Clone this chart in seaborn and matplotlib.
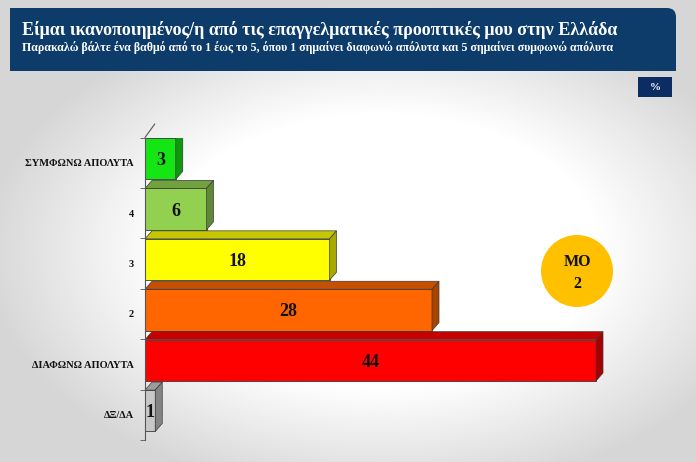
import numpy as np
import pandas as pd
import matplotlib
matplotlib.use("Agg")
import matplotlib.pyplot as plt
import seaborn as sns
from matplotlib.patches import Polygon, Rectangle, Circle, PathPatch
from matplotlib.path import Path
import matplotlib.colors as mcolors

# ---- data ----
categories = ["ΣΥΜΦΩΝΩ ΑΠΟΛΥΤΑ", "4", "3", "2", "ΔΙΑΦΩΝΩ ΑΠΟΛΥΤΑ", "ΔΞ/ΔΑ"]
values = [3, 6, 18, 28, 44, 1]
bar_colors = ["#14e614", "#92d050", "#ffff00", "#ff6600", "#ff0000", "#c8c8c8"]
title = "Είμαι ικανοποιημένος/η από τις επαγγελματικές προοπτικές μου στην Ελλάδα"
subtitle = ("Παρακαλώ βάλτε ένα βαθμό από το 1 έως το 5, όπου 1 σημαίνει διαφωνώ "
            "απόλυτα και 5 σημαίνει συμφωνώ απόλυτα")
mean_label = "ΜΟ"
mean_value = "2"
unit_label = "%"

df = pd.DataFrame({"cat": categories, "val": values})

sns.set_theme(style="white")
plt.rcParams["font.family"] = ["Liberation Serif", "DejaVu Serif"]

W, H = 696, 462
fig = plt.figure(figsize=(W / 100, H / 100), dpi=100)

# background gradient
bg = fig.add_axes([0, 0, 1, 1], zorder=0)
yy, xx = np.mgrid[0:H, 0:W]
r = np.sqrt(((xx - 380) / 400.0) ** 2 + ((yy - 250) / 250.0) ** 2)
g = np.clip(1.0 - 0.18 * np.clip(r - 0.55, 0, None) / 0.5, 0.84, 1.0)
bg.imshow(np.dstack([g, g, g]), extent=[0, W, H, 0], aspect="auto")
bg.set_xlim(0, W)
bg.set_ylim(H, 0)
bg.axis("off")

# main axes
left_px, top_px, bottom_px = 145, 137.5, 440
px_per_unit = 10.25
xmax = 50
ax = fig.add_axes([left_px / W, 1 - bottom_px / H,
                   xmax * px_per_unit / W, (bottom_px - top_px) / H], zorder=2)
ax.patch.set_alpha(0)

sns.barplot(data=df, x="val", y="cat", hue="cat", palette=bar_colors,
            orient="h", width=0.82, legend=False, ax=ax,
            edgecolor="#3a3a3a", linewidth=0.6, saturation=1)

ax.set_xlim(0, xmax)
ax.set_ylim(len(categories) - 0.5, -0.5)

def darken(c, f):
    rgb = np.array(mcolors.to_rgb(c))
    return tuple(rgb * f)

dx = 7 / px_per_unit
dy = 8 / ((bottom_px - top_px) / len(categories))
shift = -0.08
for p, col in zip(ax.patches, bar_colors):
    p.set_y(p.get_y() + shift)
    x0, y0 = p.get_x(), p.get_y()
    w, h = p.get_width(), p.get_height()
    y1 = y0 + h
    top = Polygon([(x0, y0), (x0 + w, y0), (x0 + w + dx, y0 - dy), (x0 + dx, y0 - dy)],
                  closed=True, facecolor=darken(col, 0.78), edgecolor="#3a3a3a",
                  linewidth=0.5, zorder=p.get_zorder())
    side = Polygon([(x0 + w, y0), (x0 + w + dx, y0 - dy), (x0 + w + dx, y1 - dy), (x0 + w, y1)],
                   closed=True, facecolor=darken(col, 0.66), edgecolor="#3a3a3a",
                   linewidth=0.5, zorder=p.get_zorder())
    ax.add_patch(top)
    ax.add_patch(side)
    ax.text(x0 + w / 2, y0 + h / 2, f"{int(w)}", ha="center", va="center_baseline",
            fontsize=13, fontweight="bold", color="#111111", zorder=5)

# axes styling
for s in ["top", "right", "bottom"]:
    ax.spines[s].set_visible(False)
ax.spines["left"].set_color("#555555")
ax.spines["left"].set_linewidth(0.8)
ax.set_xticks([])
ax.set_xlabel("")
ax.set_ylabel("")
ax.set_yticks(range(len(categories)))
ax.set_yticklabels(categories, fontsize=7.5, fontweight="bold", color="#111111")
ax.set_yticks(np.arange(-0.5, len(categories), 1.0), minor=True)
ax.tick_params(axis="y", which="major", length=0, pad=8)
ax.tick_params(axis="y", which="minor", length=3.5, width=0.6, color="#555555", left=True)
ax.plot([0, dx * 1.4], [-0.5, -0.5 - dy * 1.7], color="#555555", lw=0.8,
        clip_on=False, zorder=1)

# overlay decorations
ov = fig.add_axes([0, 0, 1, 1], zorder=3)
ov.set_xlim(0, W)
ov.set_ylim(H, 0)
ov.axis("off")
ov.patch.set_alpha(0)

navy = "#0d3c6b"
x0b, x1b, y0b, y1b, rad = 10, 676, 8, 71, 9
verts = [(x0b, y0b), (x1b - rad, y0b), (x1b, y0b), (x1b, y0b + rad), (x1b, y1b),
         (x0b, y1b), (x0b, y0b)]
codes = [Path.MOVETO, Path.LINETO, Path.CURVE3, Path.CURVE3, Path.LINETO,
         Path.LINETO, Path.CLOSEPOLY]
ov.add_patch(PathPatch(Path(verts, codes), facecolor=navy, edgecolor="none"))
ov.text(22, 30, title, color="white", fontsize=13, fontweight="bold",
        ha="left", va="center")
ov.text(22, 48, subtitle, color="white", fontsize=8.55, fontweight="bold",
        ha="left", va="center")

ov.add_patch(Rectangle((638, 77), 34, 20, facecolor="#0b2d63", edgecolor="none"))
ov.text(655, 87, unit_label, color="white", fontsize=8, fontweight="bold",
        ha="center", va="center")

ov.add_patch(Circle((577, 271), 36, facecolor="#ffc000", edgecolor="none"))
ov.text(577, 262, mean_label, color="#111111", fontsize=11.5, fontweight="bold",
        ha="center", va="center")
ov.text(577, 284, mean_value, color="#111111", fontsize=11.5, fontweight="bold",
        ha="center", va="center")

fig.savefig("out.png", dpi=100)
